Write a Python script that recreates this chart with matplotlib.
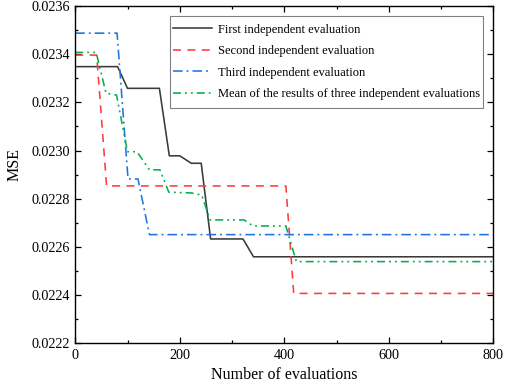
import matplotlib
matplotlib.use("Agg")
import matplotlib.pyplot as plt
from matplotlib.ticker import MultipleLocator, FormatStrFormatter
from matplotlib.patches import Rectangle

plt.rcParams['font.family'] = ['Liberation Serif', 'DejaVu Serif']
plt.rcParams['mathtext.fontset'] = 'stix'

labels = ["First independent evaluation",
          "Second independent evaluation",
          "Third independent evaluation",
          "Mean of the results of three independent evaluations"]

first_x = [0, 81, 100, 161, 180, 200, 222, 241, 259, 321, 341, 800]
first_y = [0.023348, 0.023348, 0.023258, 0.023258, 0.022978, 0.022978, 0.022947, 0.022947,
           0.022633, 0.022633, 0.022559, 0.022559]

second_x = [0, 41, 60, 403, 418, 800]
second_y = [0.023396, 0.023396, 0.022853, 0.022853, 0.022407, 0.022407]

third_x = [0, 80, 101, 120, 142, 800]
third_y = [0.023487, 0.023487, 0.022882, 0.022882, 0.022651, 0.022651]

mean_x = [0, 40, 59, 79, 100, 118, 142, 162, 179, 222, 242, 258, 323, 340, 403, 423, 800]
mean_y = [0.023407, 0.023407, 0.023237, 0.023230, 0.022995, 0.022995, 0.022920, 0.022920,
          0.022827, 0.022824, 0.022815, 0.022712, 0.022712, 0.022687, 0.022687, 0.022539, 0.022539]

fig = plt.figure(figsize=(5.05, 3.86), dpi=100)
ax = fig.add_axes([0.149, 0.1106, 0.828, 0.8741])

lw = 1.15
ax.plot(first_x, first_y, color='#3a3a3a', lw=lw, ls='-', label=labels[0])
ax.plot(second_x, second_y, color='#ff3b3b', lw=lw, ls=(0, (5, 4)), label=labels[1])
ax.plot(third_x, third_y, color='#1f74e0', lw=lw, ls=(0, (6, 2.5, 1.2, 2.5)), label=labels[2])
ax.plot(mean_x, mean_y, color='#00b050', lw=lw, ls=(0, (5, 2.5, 1.2, 2.5, 1.2, 2.5)), label=labels[3])

ax.set_xlim(0, 800)
ax.set_ylim(0.0222, 0.0236)
ax.xaxis.set_major_locator(MultipleLocator(200))
ax.xaxis.set_minor_locator(MultipleLocator(100))
ax.yaxis.set_major_locator(MultipleLocator(0.0002))
ax.yaxis.set_minor_locator(MultipleLocator(0.0001))
ax.yaxis.set_major_formatter(FormatStrFormatter('%.4f'))

ax.tick_params(which='both', direction='in', top=True, right=True, labelsize=10.2, width=0.9)
ax.tick_params(which='major', length=4.5, pad=4)
ax.tick_params(which='minor', length=2.5)
for s in ax.spines.values():
    s.set_linewidth(1.0)

ax.set_xlabel('Number of evaluations', fontsize=11.5, labelpad=4)
ax.set_ylabel('MSE', fontsize=11.5)
ax.yaxis.set_label_coords(-0.125, 0.53)

leg = ax.legend(loc='upper right', bbox_to_anchor=(0.975, 0.957), fontsize=9,
                frameon=False, handlelength=3.1, handletextpad=0.45, labelspacing=0.77,
                borderpad=0.25, borderaxespad=0)
leg.set_zorder(5)

# legend frame with extra vertical padding (as in the original)
fig.canvas.draw()
bb = leg.get_window_extent().transformed(ax.transAxes.inverted())
vpad = 4.5 / (ax.bbox.height)
frame = Rectangle((bb.x0, bb.y0 - vpad), bb.width, bb.height + 2 * vpad,
                  transform=ax.transAxes, facecolor='white', edgecolor='#808080',
                  linewidth=0.8, zorder=4)
ax.add_patch(frame)

fig.savefig('out.png', dpi=100)
